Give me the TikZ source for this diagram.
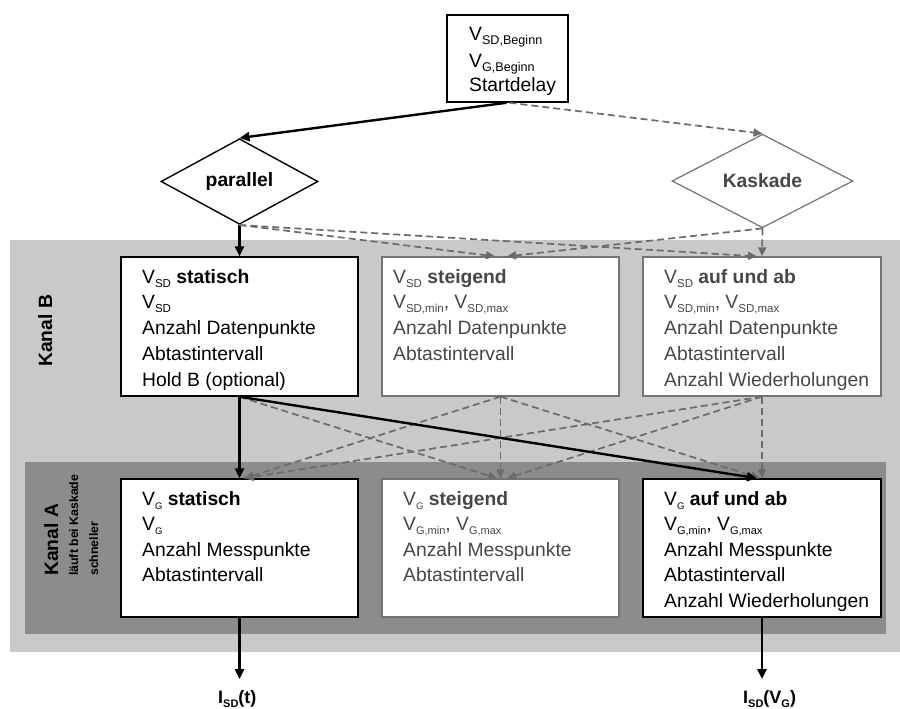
\documentclass[tikz,border=0pt]{standalone}
\usepackage{fontspec}
\setmainfont{Liberation Sans}
\usetikzlibrary{arrows.meta,shapes.geometric}

\definecolor{panelB}{gray}{0.79}
\definecolor{panelA}{gray}{0.55}
\definecolor{greytext}{gray}{0.28}
\definecolor{greyline}{gray}{0.42}
\definecolor{greyedge}{gray}{0.45}

% lowered small index, e.g. V_{SD}
\newcommand\lowsub[2][11.5]{\raisebox{-4pt}{\fontsize{#1}{#1}\selectfont #2}}

\tikzset{
  txt/.style={anchor=base west, inner sep=0pt, font=\fontsize{19.3}{23}\selectfont},
  gtxt/.style={txt, text=greytext},
  boxk/.style={draw=black, line width=1.5pt, fill=white, inner sep=0pt,
               minimum width=237pt, minimum height=139pt},
  boxg/.style={draw=greyedge, line width=1.3pt, fill=white, inner sep=0pt,
               minimum width=237pt, minimum height=139pt},
  solidarrow/.style={line width=2.4pt, -{Triangle[length=10pt,width=9pt]}},
  dasharrow/.style={draw=greyline, line width=1.7pt, dash pattern=on 7pt off 4pt,
                    -{Triangle[length=9pt,width=8pt]}},
  decision/.style={diamond, inner sep=0pt, line width=1.4pt, fill=white,
                   font=\fontsize{19.3}{23}\selectfont\bfseries},
  sidelabel/.style={rotate=90, anchor=base west, inner sep=0pt},
}

\begin{document}
\begin{tikzpicture}[x=1pt,y=-1pt]
\useasboundingbox (0,0) rectangle (900,709);

% channel panels
\fill[panelB] (10,240) rectangle (900,652);
\fill[panelA] (25,462) rectangle (886,634);

% start parameters
\node[draw=black, line width=1.5pt, fill=white, minimum width=121pt, minimum height=87pt, inner sep=0pt] (tb) at (507.5,58.5) {};
\node[txt] (tb1) at (469,41) {V\lowsub[12.6]{SD,Beginn}};
\node[txt] (tb2) at (469,67) {V\lowsub[12.6]{G,Beginn}};
\node[txt] (tb3) at (469,92) {Startdelay};

% mode decisions
\node[decision, draw=black, minimum width=157pt, minimum height=57pt] (par) at (239.5,181.5) {parallel};
\node[decision, draw=greyedge, text=greytext, line width=1.2pt, minimum width=181pt, minimum height=58pt] (kas) at (762.5,181) {Kaskade};

% channel B boxes
\node[boxk] (b1) at (239.5,326.5) {};
\node[boxg] (b2) at (500.5,326.5) {};
\node[boxg, minimum width=238pt] (b3) at (762,326.5) {};

\node[txt] (b1l1) at (142,283) {V\lowsub{SD} \textbf{statisch}};
\node[txt] (b1l2) at (142,308.75) {V\lowsub{SD}};
\node[txt] (b1l3) at (142,334.5) {Anzahl Datenpunkte};
\node[txt] (b1l4) at (142,360.25) {Abtastintervall};
\node[txt] (b1l5) at (142,386) {Hold B (optional)};

\node[gtxt] (b2l1) at (393,283) {V\lowsub{SD} \textbf{steigend}};
\node[gtxt] (b2l2) at (393,308.75) {V\lowsub{SD,min}, V\lowsub{SD,max}};
\node[gtxt] (b2l3) at (393,334.5) {Anzahl Datenpunkte};
\node[gtxt] (b2l4) at (393,360.25) {Abtastintervall};

\node[gtxt] (b3l1) at (664,283) {V\lowsub{SD} \textbf{auf und ab}};
\node[gtxt] (b3l2) at (664,308.75) {V\lowsub{SD,min}, V\lowsub{SD,max}};
\node[gtxt] (b3l3) at (664,334.5) {Anzahl Datenpunkte};
\node[gtxt] (b3l4) at (664,360.25) {Abtastintervall};
\node[gtxt] (b3l5) at (664,386) {Anzahl Wiederholungen};

% channel A boxes
\node[boxk, minimum height=138pt] (a1) at (239.5,548) {};
\node[boxg, minimum height=138pt] (a2) at (500.5,548) {};
\node[boxk, minimum height=138pt, minimum width=238pt] (a3) at (762,548) {};

\node[txt] (a1l1) at (142,505) {V\lowsub[9.5]{G} \textbf{statisch}};
\node[txt] (a1l2) at (142,530.5) {V\lowsub[9.5]{G}};
\node[txt] (a1l3) at (142,556) {Anzahl Messpunkte};
\node[txt] (a1l4) at (142,581.5) {Abtastintervall};

\node[gtxt] (a2l1) at (403,505) {V\lowsub[9.5]{G} \textbf{steigend}};
\node[gtxt] (a2l2) at (403,530.5) {V\lowsub[11]{G,min}, V\lowsub[11]{G,max}};
\node[gtxt] (a2l3) at (403,556) {Anzahl Messpunkte};
\node[gtxt] (a2l4) at (403,581.5) {Abtastintervall};

\node[txt] (a3l1) at (664,505) {V\lowsub[9.5]{G} \textbf{auf und ab}};
\node[txt] (a3l2) at (664,530.5) {V\lowsub[11]{G,min}, V\lowsub[11]{G,max}};
\node[txt] (a3l3) at (664,556) {Anzahl Messpunkte};
\node[txt] (a3l4) at (664,581.5) {Abtastintervall};
\node[txt] (a3l5) at (664,607) {Anzahl Wiederholungen};

% channel labels
\node[sidelabel] (kb) at (52,367) {\fontsize{19.3}{23}\selectfont\bfseries Kanal B};
\node[sidelabel] (ka1) at (58,576) {\fontsize{19.3}{23}\selectfont\bfseries Kanal A};
\node[sidelabel] (ka2) at (78,576) {\fontsize{12.3}{14}\selectfont\bfseries läuft bei Kaskade};
\node[sidelabel] (ka3) at (98,576) {\fontsize{12.3}{14}\selectfont\bfseries schneller};

% measured quantities
\coordinate (o1) at (239.5,679);
\coordinate (o2) at (762,679);
\node[anchor=base west, inner sep=0pt] (isd1) at (218,703) {\fontsize{18}{20}\selectfont\bfseries I\lowsub[11]{SD}(t)};
\node[anchor=base west, inner sep=0pt] (isd2) at (743,703) {\fontsize{18}{20}\selectfont\bfseries I\lowsub[11]{SD}(V\lowsub[11]{G})};

% start -> mode
\draw[solidarrow] ([xshift=-1pt]tb.south) -- (par.north);
\draw[dasharrow] ([xshift=2pt]tb.south) -- (kas.north);

% mode -> channel B
\draw[solidarrow] (par.south) -- (b1.north);
\draw[dasharrow] (par.south) -- ([xshift=-5.5pt]b2.north);
\draw[dasharrow] (par.south) -- ([xshift=-5pt]b3.north);
\draw[dasharrow] (kas.south) -- ([xshift=6.5pt]b2.north);
\draw[dasharrow] (kas.south) -- (b3.north);

% channel B -> channel A
\draw[dasharrow] (b1.south) -- ([xshift=-3.5pt]a2.north);
\draw[dasharrow] (b2.south) -- ([xshift=5pt]a1.north);
\draw[dasharrow] (b2.south) -- (a2.north);
\draw[dasharrow] (b2.south) -- ([xshift=-2pt]a3.north);
\draw[dasharrow] (b3.south) -- ([xshift=5pt]a1.north);
\draw[dasharrow] (b3.south) -- ([xshift=6.5pt]a2.north);
\draw[dasharrow] (b3.south) -- (a3.north);
\draw[solidarrow] (b1.south) -- (a1.north);
\draw[solidarrow] (b1.south) -- ([xshift=-5pt]a3.north);

% channel A -> results
\draw[solidarrow] (a1.south) -- (o1);
\draw[solidarrow] (a3.south) -- (o2);
\end{tikzpicture}
\end{document}
